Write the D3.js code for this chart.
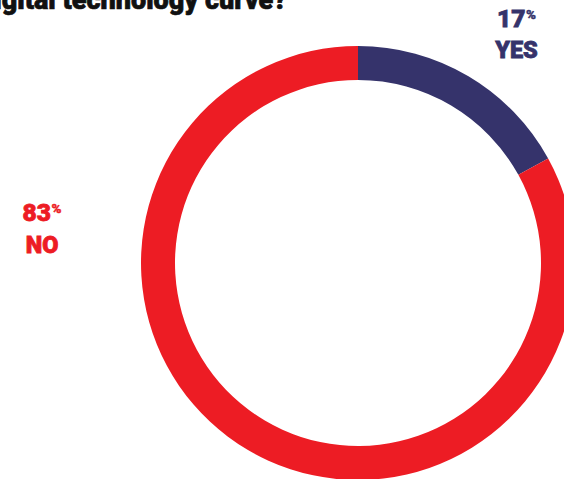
<!DOCTYPE html>
<html><head><meta charset="utf-8">
<script src="https://cdn.jsdelivr.net/npm/d3@7"></script>
<style>html,body{margin:0;padding:0;background:#fff;overflow:hidden}</style>
</head><body>
<svg id="chart" width="564" height="479"></svg>
<script>
const categories = ["YES", "NO"];
const values = [17, 83];
const colors = ["#35336b", "#ed1c24"];
const title = "Are you ahead of the digital technology curve?";

const svg = d3.select("#chart");
const cx = 358, cy = 263, rOuter = 217, rInner = 183;
const FONT = "Roboto, 'Open Sans', sans-serif";

const pie = d3.pie().sort(null).value(d => d.v);
const arc = d3.arc().innerRadius(rInner).outerRadius(rOuter);
const data = categories.map((c, i) => ({c, v: values[i], col: colors[i]}));

svg.append("g").attr("transform", `translate(${cx},${cy})`)
  .selectAll("path").data(pie(data)).join("path")
  .attr("d", arc).attr("fill", d => d.data.col);

// title (cut at top like the reference)
svg.append("text").attr("x", 287).attr("y", 9)
  .attr("text-anchor", "end")
  .style("font-family", FONT)
  .style("font-weight", 900).style("font-size", "27px")
  .attr("fill", "#111").attr("stroke", "#111").attr("stroke-width", 0.7)
  .text(title);

function label(x, y, pct, name, col, gap) {
  const sizeNum = 24.5, sizePct = 13.5, sizeName = 23.5;
  const g = svg.append("g").attr("fill", col).attr("stroke", col).attr("stroke-width", 0.8)
    .style("font-family", FONT).style("font-weight", 900);
  const num = g.append("text").attr("x", x).attr("y", y).attr("text-anchor", "middle")
    .style("font-size", sizeNum + "px");
  num.append("tspan").text(pct);
  num.append("tspan").text("%").attr("dx", 0.5).attr("dy", -(0.71 * sizeNum - 0.71 * sizePct))
    .attr("stroke-width", 0.4).style("font-size", sizePct + "px");
  g.append("text").attr("x", x).attr("y", y + gap).attr("text-anchor", "middle")
    .style("font-size", sizeName + "px").text(name);
}
label(516.5, 27, values[0], categories[0], colors[0], 31);
label(42, 221, values[1], categories[1], colors[1], 31.5);
</script>
</body></html>
